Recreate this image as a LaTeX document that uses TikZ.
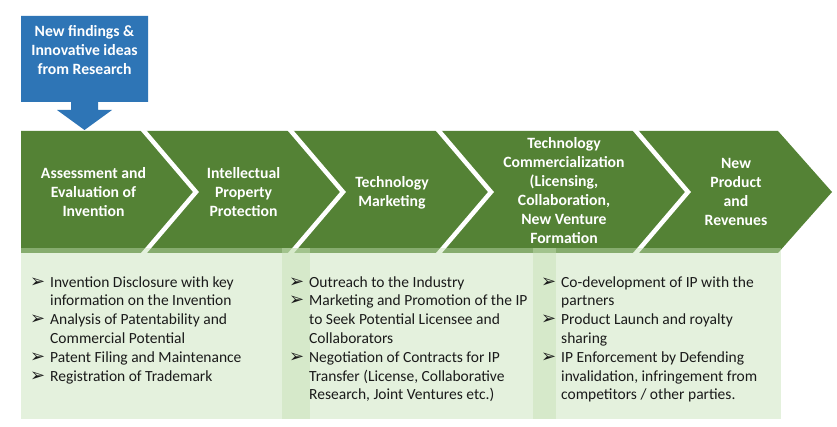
\documentclass[tikz,border=0pt]{standalone}
\usepackage{fontspec}
\usepackage{array}
\setmainfont{Carlito}
\newfontfamily\bulfont{DejaVu Sans}
\definecolor{darkgreen}{HTML}{548235}
\definecolor{bluebox}{HTML}{2E75B6}
\definecolor{panelgreen}{HTML}{C5E0B4}
\definecolor{bodytext}{HTML}{1A1A1A}
\newcommand\bul{{\bulfont\fontsize{18}{18.8}\selectfont ➢}}
\begin{document}
\begin{tikzpicture}[x=1pt,y=-1pt,
  hdr/.style={text=white,font=\bfseries\fontsize{15.7}{19}\selectfont,align=center,inner sep=0},
  body/.style={text=bodytext,font=\fontsize{15.5}{18.8}\selectfont,inner sep=0,anchor=north west},
  panel/.style={fill=panelgreen,fill opacity=0.45,draw=none},
  sep/.style={draw=white,line width=4.5pt}]
\useasboundingbox (0,0) rectangle (837,427);
\fill[white] (0,0) rectangle (837,427);
% source arrow
\fill[bluebox] (21,16) -- (148,16) -- (148,102) -- (98,102) -- (98,110) -- (112,110) -- (84.5,130) -- (57,110) -- (71,110) -- (71,102) -- (21,102) -- cycle;
\node[hdr] (src) at (84.5,50) {New findings \&\\Innovative ideas\\from Research};
% chevron band
\fill[darkgreen] (21,131) -- (778,131) -- (832,192) -- (778,253) -- (21,253) -- cycle;
\begin{scope}
\clip (21,131) rectangle (837,254);
\draw[sep] (141.4,128) -- (196,192) -- (141.4,256);
\draw[sep] (288.4,128) -- (343,192) -- (288.4,256);
\draw[sep] (436.4,128) -- (491,192) -- (436.4,256);
\draw[sep] (633.4,128) -- (688,192) -- (633.4,256);
\end{scope}
% panels
\fill[panel] (21,248) rectangle (310,419);
\fill[panel] (282,248) rectangle (556,419);
\fill[panel] (533,248) rectangle (781,419);
% headers
\node[hdr] (h1) at (93.5,192.5) {Assessment and\\Evaluation of\\Invention};
\node[hdr] (h2) at (243.5,192.5) {Intellectual\\Property\\Protection};
\node[hdr] (h3) at (392,192.5) {Technology\\Marketing};
\node[hdr] (h4) at (564,191) {Technology\\Commercialization\\(Licensing,\\Collaboration,\\New Venture\\Formation};
\node[hdr] (h5) at (736,192) {New\\Product\\and\\Revenues};
% body texts
\node[body] (b1) at (30,273.8) {\begin{tabular}{@{}p{20pt}@{}l@{}}
\bul & Invention Disclosure with key\\
 & information on the Invention\\
\bul & Analysis of Patentability and\\
 & Commercial Potential\\
\bul & Patent Filing and Maintenance\\
\bul & Registration of Trademark
\end{tabular}};
\node[body] (b2) at (289,273.8) {\begin{tabular}{@{}p{20pt}@{}l@{}}
\bul & Outreach to the Industry\\
\bul & Marketing and Promotion of the IP\\
 & to Seek Potential Licensee and\\
 & Collaborators\\
\bul & Negotiation of Contracts for IP\\
 & Transfer (License, Collaborative\\
 & Research, Joint Ventures etc.)
\end{tabular}};
\node[body] (b3) at (541,273.8) {\begin{tabular}{@{}p{20pt}@{}l@{}}
\bul & Co-development of IP with the\\
 & partners\\
\bul & Product Launch and royalty\\
 & sharing\\
\bul & IP Enforcement by Defending\\
 & invalidation, infringement from\\
 & competitors / other parties.
\end{tabular}};
\end{tikzpicture}
\end{document}
